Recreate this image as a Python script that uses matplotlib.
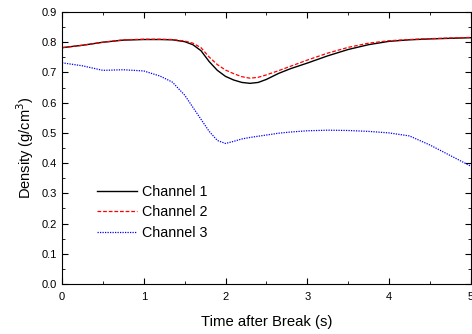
import matplotlib
matplotlib.use("Agg")
import matplotlib.pyplot as plt
from matplotlib.ticker import MultipleLocator, FormatStrFormatter

plt.rcParams['font.family'] = ['Liberation Sans', 'DejaVu Sans']

time = [0.0, 0.25, 0.5, 0.75, 1.0, 1.2, 1.35, 1.5, 1.6, 1.7, 1.8, 1.9, 2.0, 2.1, 2.2,
        2.3, 2.4, 2.5, 2.65, 2.8, 3.0, 3.25, 3.5, 3.75, 4.0, 4.25, 4.5, 4.75, 5.0]
channel1 = [0.782, 0.79, 0.80, 0.807, 0.809, 0.809, 0.808, 0.802, 0.792, 0.772, 0.736,
            0.707, 0.687, 0.675, 0.667, 0.664, 0.667, 0.677, 0.697, 0.713, 0.731, 0.755,
            0.776, 0.792, 0.803, 0.808, 0.811, 0.813, 0.815]
channel2 = [0.782, 0.79, 0.80, 0.808, 0.810, 0.810, 0.809, 0.804, 0.797, 0.782, 0.751,
            0.726, 0.708, 0.696, 0.686, 0.681, 0.684, 0.692, 0.706, 0.721, 0.741, 0.764,
            0.783, 0.797, 0.805, 0.809, 0.812, 0.814, 0.816]
channel3 = [0.732, 0.722, 0.707, 0.709, 0.705, 0.688, 0.668, 0.625, 0.585, 0.545, 0.505,
            0.475, 0.465, 0.472, 0.480, 0.485, 0.489, 0.493, 0.499, 0.503, 0.507, 0.509,
            0.508, 0.505, 0.500, 0.490, 0.460, 0.425, 0.390]

fig = plt.figure(figsize=(4.72, 3.34), dpi=100)
ax = fig.add_axes([0.1314, 0.1497, 0.866, 0.8143])

ax.plot(time, channel1, color='black', lw=1.0, label='Channel 1')
ax.plot(time, channel2, color='red', lw=0.9, ls=(0, (3, 1.5)), label='Channel 2')
ax.plot(time, channel3, color='blue', lw=0.9, ls=(0, (1, 1)), label='Channel 3')

ax.set_xlim(0, 5)
ax.set_ylim(0, 0.9)
ax.xaxis.set_major_locator(MultipleLocator(1))
ax.xaxis.set_minor_locator(MultipleLocator(0.5))
ax.yaxis.set_major_locator(MultipleLocator(0.1))
ax.yaxis.set_minor_locator(MultipleLocator(0.05))
ax.yaxis.set_major_formatter(FormatStrFormatter('%.1f'))
ax.tick_params(which='both', direction='in', top=True, right=True, labelsize=8)
ax.tick_params(which='major', length=4)
ax.tick_params(which='minor', length=2.5)
ax.tick_params(axis='x', pad=6)

ax.set_xlabel('Time after Break (s)', fontsize=10.7, labelpad=9)
ax.set_ylabel('Density (g/cm$^3$)', fontsize=10.5)

ax.legend(loc='lower left', bbox_to_anchor=(0.055, 0.115), frameon=False, fontsize=10.3,
          handlelength=2.8, labelspacing=0.45, handletextpad=0.3)

plt.savefig('out.png', dpi=100)
